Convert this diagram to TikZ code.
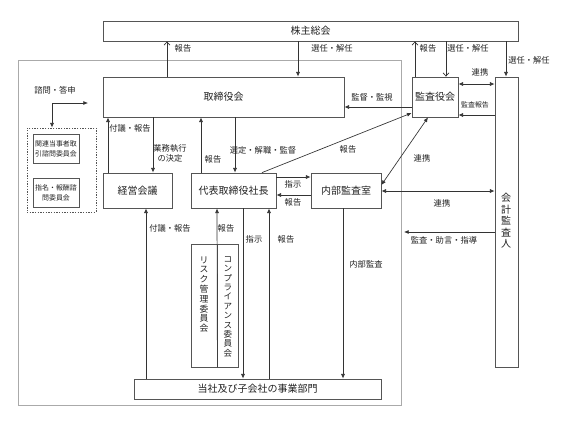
\documentclass[tikz,border=0pt]{standalone}
\usepackage{fontspec}
\setmainfont{Noto Sans CJK JP}
\usetikzlibrary{arrows.meta}
\definecolor{boxc}{HTML}{555555}
\definecolor{framec}{HTML}{AAAAAA}
\definecolor{txtc}{HTML}{222222}
\definecolor{arrc}{HTML}{333333}
\newcommand{\mybx}[7][]{\node[boxst,#1, minimum width={(#5-#3)*0.75pt}, minimum height={(#6-#4)*0.75pt}] (#2) at ({(#3+#5)/2},{(#4+#6)/2}) {#7};}
\begin{document}
\begin{tikzpicture}[x=0.75pt,y=-0.75pt,
 boxst/.style={draw=boxc, line width=0.6pt, inner sep=0pt, text=txtc, font=\fontsize{7.5}{9}\selectfont, align=center},
 lbl/.style={text=txtc, font=\fontsize{6.2}{7.6}\selectfont, inner sep=0pt, align=center},
 arr/.style={draw=arrc, line width=0.5pt, -{Latex[length=3.5pt,width=3pt]}},
 darr/.style={draw=arrc, line width=0.5pt, {Latex[length=3.5pt,width=3pt]}-{Latex[length=3.5pt,width=3pt]}},
 oarr/.style={draw=arrc, line width=0.5pt, -{Straight Barb[length=2.5pt,width=4.5pt]}}]
\useasboundingbox (0,0) rectangle (568,425);
\fill[white] (0,0) rectangle (568,425);
\draw[framec, line width=0.6pt] (18,60) rectangle (401,405);

% boxes
\mybx{soukai}{103}{21}{518}{41}{株主総会}
\mybx{board}{103}{77}{344}{117}{取締役会}
\mybx{kansayaku}{412}{77}{458}{117}{監査役会}
\mybx{kaikei}{495}{77}{518}{367}{}
\node[boxst, draw=none, font=\fontsize{7.5}{8.6}\selectfont] (kaikeit) at (506,221) {会\\計\\監\\査\\人};
\mybx{keiei}{103}{173}{172}{208}{経営会議}
\mybx{ceo}{191}{173}{276}{208}{代表取締役社長}
\mybx{naibu}{311}{173}{381}{208}{内部監査室}
\mybx{jigyo}{134}{379}{381}{399}{当社及び子会社の事業部門}
\mybx{risk}{191}{244}{217}{367}{}
\mybx{comp}{217}{244}{238}{367}{}
\node[boxst, draw=none, anchor=north, font=\fontsize{6.6}{7.35}\selectfont] (riskt) at (204,256) {リ\\ス\\ク\\管\\理\\委\\員\\会};
\node[boxst, draw=none, anchor=north, font=\fontsize{6.4}{7.05}\selectfont] (compt) at (228,256) {コ\\ン\\プ\\ラ\\イ\\ア\\ン\\ス\\委\\員\\会};
\mybx[dash pattern=on 1pt off 1pt]{dashedbox}{27}{128}{96}{212}{}
\mybx[font=\fontsize{5.2}{7.5}\selectfont]{kanren}{33}{134}{79}{163}{関連当事者取\\引諮問委員会}
\mybx[font=\fontsize{5.2}{7.5}\selectfont]{shimei}{33}{178}{79}{207}{指名・報酬諮\\問委員会}

% helper coordinates
\foreach \xx in {108,146,153,167,201,217,235,243,262,269,298,343,415,428,446,506}
  \coordinate (x\xx) at (\xx,0);
\foreach \yy in {84,107,113,115,177,185,191,195,232}
  \coordinate (y\yy) at (0,\yy);
\coordinate (c404) at (404,232);
\coordinate (corner) at (52,103);
\coordinate (c88) at (88,103);

% connectors
\draw[oarr] (board.north -| x167) -- (soukai.south -| x167);
\draw[arr] (soukai.south -| x298) -- (board.north -| x298);
\draw[oarr] (kansayaku.north -| x415) -- (soukai.south -| x415);
\draw[oarr] (soukai.south -| x446) -- (kansayaku.north -| x446);
\draw[arr] (soukai.south -| x506) -- (kaikei.north -| x506);
\draw[darr] (kansayaku.east |- y84) -- (kaikei.west |- y84);
\draw[arr] (kaikei.west |- y115) -- (kansayaku.east |- y115);
\draw[arr] (kansayaku.west |- y107) -- (board.east |- y107);
\draw[arr] (keiei.north -| x108) -- (board.south -| x108);
\draw[arr] (board.south -| x153) -- (keiei.north -| x153);
\draw[arr] (ceo.north -| x201) -- (board.south -| x201);
\draw[arr] (board.south -| x235) -- (ceo.north -| x235);
\draw[arr] (ceo.north -| x262) -- (kansayaku.west |- y113);
\draw[darr] (kansayaku.south -| x428) -- (naibu.east |- y185);
\draw[darr] (naibu.east |- y191) -- (kaikei.west |- y191);
\draw[arr] (kaikei.west |- y232) -- (c404);
\draw[arr] (ceo.east |- y177) -- (naibu.west |- y177);
\draw[arr] (naibu.west |- y195) -- (ceo.east |- y195);
\draw[arr] (jigyo.north -| x146) -- (keiei.south -| x146);
\draw[arr] (risk.south east) -- (ceo.south -| x217);
\draw[arr] (ceo.south -| x243) -- (jigyo.north -| x243);
\draw[arr] (jigyo.north -| x269) -- (ceo.south -| x269);
\draw[arr] (naibu.south -| x343) -- (jigyo.north -| x343);
\draw[arr] (corner) -- (c88);
\draw[arr] (corner) -- (dashedbox.north -| corner);

% labels
\node[lbl] (l1) at (183,48) {報告};
\node[lbl] (l2) at (332,48) {選任・解任};
\node[lbl] (l3) at (428,48) {報告};
\node[lbl] (l4) at (468,48) {選任・解任};
\node[lbl] (l5) at (529,60) {選任・解任};
\node[lbl] (l6) at (480,72) {連携};
\node[lbl, font=\fontsize{5.2}{6}\selectfont] (l7) at (475,105) {監査報告};
\node[lbl] (l8) at (372,97) {監督・監視};
\node[lbl] (l9) at (55,90) {諮問・答申};
\node[lbl] (l10) at (130,128) {付議・報告};
\node[lbl] (l11) at (170,153) {業務執行\\の決定};
\node[lbl] (l12) at (213,159) {報告};
\node[lbl] (l13) at (263,150) {選定・解職・監督};
\node[lbl] (l14) at (348,149) {報告};
\node[lbl] (l15) at (422,158) {連携};
\node[lbl] (l16) at (293,184) {指示};
\node[lbl] (l17) at (293,202) {報告};
\node[lbl] (l18) at (442,203) {連携};
\node[lbl] (l19) at (444,240) {監査・助言・指導};
\node[lbl] (l20) at (170,228) {付議・報告};
\node[lbl] (l21) at (226,228) {報告};
\node[lbl] (l22) at (254,239) {指示};
\node[lbl] (l23) at (286,239) {報告};
\node[lbl] (l24) at (366,264) {内部監査};
\end{tikzpicture}
\end{document}
